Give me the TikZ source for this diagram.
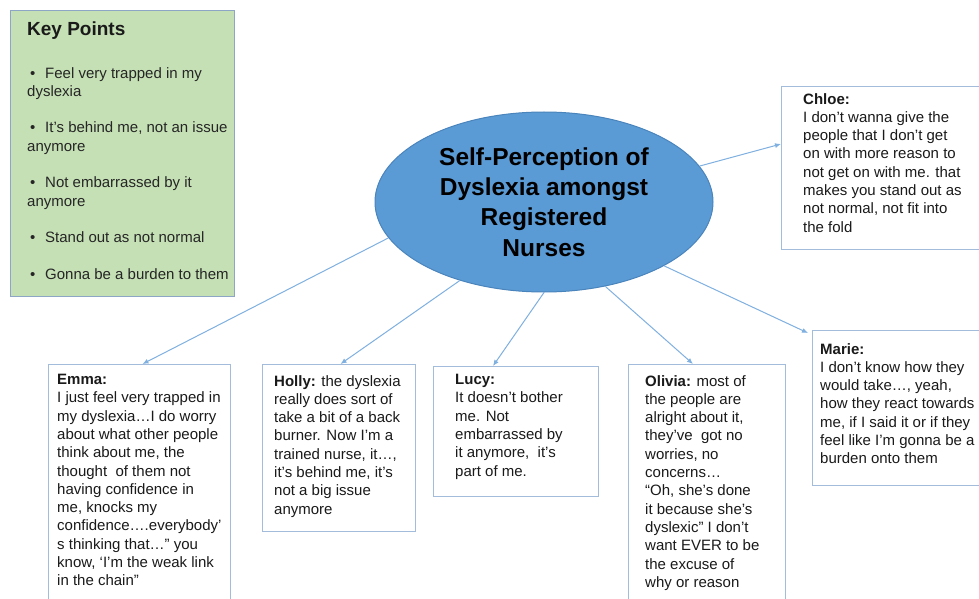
\documentclass[tikz,border=0pt]{standalone}
\usepackage{fontspec}
\setmainfont{Liberation Sans}
\usetikzlibrary{shapes.geometric,arrows.meta}
\definecolor{keygreen}{HTML}{C5E0B4}
\definecolor{keyborder}{HTML}{8EA6C6}
\definecolor{boxborder}{HTML}{A3BCDB}
\definecolor{ellfill}{HTML}{5B9BD5}
\definecolor{elldraw}{HTML}{4A84BD}
\definecolor{arrowcol}{HTML}{7FB0E0}
\definecolor{txt}{HTML}{1A1A1A}
\tikzset{
  quotebox/.style={draw=boxborder, line width=1pt, fill=white, rectangle, inner sep=0, anchor=north west},
  quotetext/.style={inner sep=0, anchor=north west, align=left, text=txt, font=\fontsize{15}{18.3}\selectfont},
  link/.style={draw=arrowcol, line width=1pt, -{Latex[length=6pt,width=5pt]}},
}
\begin{document}
\begin{tikzpicture}[x=1pt,y=-1pt]
\useasboundingbox (0,0) rectangle (979,599);
\clip (0,0) rectangle (979,599);
\fill[white] (0,0) rectangle (979,599);

% Key points box
\node[draw=keyborder, line width=1pt, fill=keygreen, anchor=north west, inner sep=0,
  minimum width=224, minimum height=286] (key) at (10,10) {};
\node[inner sep=0, anchor=north west, font=\bfseries\fontsize{19}{22}\selectfont, text=txt] (keytitle) at (27,22) {Key Points};
\node[quotetext, text=black!85] (keylist) at (27,67) {%
\makebox[18pt][l]{\hspace{3pt}•}Feel very trapped in my\\
dyslexia\\[18.3pt]
\makebox[18pt][l]{\hspace{3pt}•}It’s behind me, not an issue\\
anymore\\[18.3pt]
\makebox[18pt][l]{\hspace{3pt}•}Not embarrassed by it\\
anymore\\[18.3pt]
\makebox[18pt][l]{\hspace{3pt}•}Stand out as not normal\\[18.3pt]
\makebox[18pt][l]{\hspace{3pt}•}Gonna be a burden to them};

% Central ellipse
\node[ellipse, draw=elldraw, line width=1pt, fill=ellfill, minimum width=338, minimum height=180,
  inner sep=0, align=center, font=\bfseries\fontsize{24.5}{30.3}\selectfont, text=black] (ell) at (544,202)
  {Self-Perception of\\Dyslexia amongst\\Registered\\Nurses};

% Quote boxes
\node[quotebox, minimum width=198, minimum height=163] (chloe) at (781,86) {};
\node[quotetext] (chloet) at (803,93) {\textbf{Chloe:}\\
I don’t wanna give the\\
people that I don’t get\\
on with more reason to\\
not get on with me. that\\
makes you stand out as\\
not normal, not fit into\\
the fold};

\node[quotebox, minimum width=182, minimum height=245] (emma) at (48,364) {};
\node[quotetext] (emmat) at (57,374) {\textbf{Emma:}\\
I just feel very trapped in\\
my dyslexia…I do worry\\
about what other people\\
think about me, the\\
thought\ \ of them not\\
having confidence in\\
me, knocks my\\
confidence….everybody’\\
s thinking that…” you\\
know, ‘I’m the weak link\\
in the chain”};

\node[quotebox, minimum width=153, minimum height=167] (holly) at (262,364) {};
\node[quotetext] (hollyt) at (274,375) {\textbf{Holly:} the dyslexia\\
really does sort of\\
take a bit of a back\\
burner. Now I’m a\\
trained nurse, it…,\\
it’s behind me, it’s\\
not a big issue\\
anymore};

\node[quotebox, minimum width=165, minimum height=130] (lucy) at (433,366) {};
\node[quotetext] (lucyt) at (455,374) {\textbf{Lucy:}\\
It doesn’t bother\\
me. Not\\
embarrassed by\\
it anymore,\ \ it’s\\
part of me.};

\node[quotebox, minimum width=157, minimum height=245] (olivia) at (628,364) {};
\node[quotetext] (oliviat) at (645,375) {\textbf{Olivia:} most of\\
the people are\\
alright about it,\\
they’ve\ \ got no\\
worries, no\\
concerns…\\
“Oh, she’s done\\
it because she’s\\
dyslexic” I don’t\\
want EVER to be\\
the excuse of\\
why or reason};

\node[quotebox, minimum width=169, minimum height=155] (marie) at (812,330) {};
\node[quotetext] (mariet) at (820,343) {\textbf{Marie:}\\
I don’t know how they\\
would take…, yeah,\\
how they react towards\\
me, if I said it or if they\\
feel like I’m gonna be a\\
burden onto them};

% Connectors
\draw[link] (ell.193.3) -- ([xshift=3pt]emma.north);
\draw[link] (ell.223.3) -- ([xshift=1.5pt]holly.north);
\draw[link] (ell.270) -- ([xshift=-23pt]lucy.north);
\draw[link] (ell.306.7) -- ([xshift=-14pt]olivia.north);
\draw[link] (ell.332.3) -- ([xshift=-4pt,yshift=-3pt]marie.north west);
\draw[link] (ell.13.3) -- ([yshift=24pt]chloe.west);
\end{tikzpicture}
\end{document}
